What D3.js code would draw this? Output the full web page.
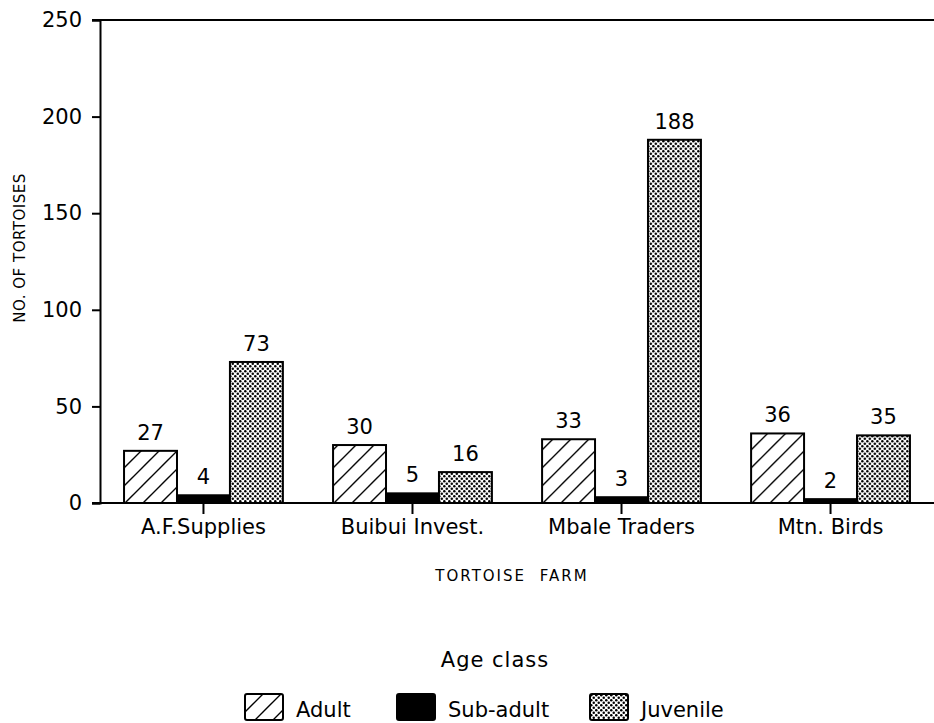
<!DOCTYPE html>
<html>
<head>
<meta charset="utf-8">
<script src="https://cdn.jsdelivr.net/npm/d3@7"></script>
<style>
  body { margin: 0; background: #fff; }
  svg text { font-family: "DejaVu Sans", sans-serif; fill: #000; }
</style>
</head>
<body>
<svg width="934" height="723"></svg>
<script>
// data
var farms = ["A.F.Supplies", "Buibui Invest.", "Mbale Traders", "Mtn. Birds"];
var ageClasses = ["Adult", "Sub-adult", "Juvenile"];
var adult = [27, 30, 33, 36];
var subAdult = [4, 5, 3, 2];
var juvenile = [73, 16, 188, 35];
var yTicks = [0, 50, 100, 150, 200, 250];

var svg = d3.select("svg"),
    margin = {top: 20, left: 100, right: 0, bottom: 220},
    width = +svg.attr("width") - margin.left - margin.right,
    height = +svg.attr("height") - margin.top - margin.bottom;

var series = [adult, subAdult, juvenile];
var rows = farms.map(function (f, i) {
    return {farm: f, values: ageClasses.map(function (a, k) {
        return {cls: a, value: series[k][i]};
    })};
});

var x0 = d3.scaleBand().domain(farms).range([margin.left, margin.left + width])
    .paddingInner(0.24).paddingOuter(0.115);
var x1 = d3.scaleBand().domain(ageClasses).range([0, x0.bandwidth()]);
var y = d3.scaleLinear().domain([0, 250]).range([margin.top + height, margin.top]);

// patterns for fills
var defs = svg.append("defs");
var hatch = defs.append("pattern").attr("id", "hatch")
    .attr("patternUnits", "userSpaceOnUse").attr("width", 18).attr("height", 18);
hatch.append("path").attr("d", "M-2,20 L20,-2 M-2,2 L2,-2 M16,20 L20,16")
    .attr("stroke", "#000").attr("stroke-width", 1.4);

var dots = defs.append("pattern").attr("id", "dots")
    .attr("patternUnits", "userSpaceOnUse").attr("width", 5).attr("height", 5);
dots.append("rect").attr("width", 5).attr("height", 5).attr("fill", "#fff");
dots.append("circle").attr("cx", 1.25).attr("cy", 1.25).attr("r", 1.25).attr("fill", "#000");
dots.append("circle").attr("cx", 3.75).attr("cy", 3.75).attr("r", 1.25).attr("fill", "#000");

var fill = d3.scaleOrdinal().domain(ageClasses)
    .range(["url(#hatch)", "#000", "url(#dots)"]);

// y axis
var yAxis = svg.append("g")
    .attr("transform", "translate(" + margin.left + ",0)")
    .call(d3.axisLeft(y).tickValues(yTicks).tickSize(8).tickPadding(10));
yAxis.select(".domain").attr("stroke-width", 2);
yAxis.selectAll(".tick line").attr("stroke-width", 2);
yAxis.selectAll("text").attr("font-size", 21).style("font-family", "DejaVu Sans");

// top frame line
svg.append("line")
    .attr("x1", margin.left - 8).attr("x2", 934)
    .attr("y1", y(250)).attr("y2", y(250))
    .attr("stroke", "#000").attr("stroke-width", 2);

// bars
var groups = svg.selectAll(".farm")
    .data(rows)
    .enter().append("g")
    .attr("class", "farm")
    .attr("transform", function (d) { return "translate(" + x0(d.farm) + ",0)"; });

groups.selectAll("rect")
    .data(function (d) { return d.values; })
    .enter().append("rect")
    .attr("x", function (d) { return x1(d.cls); })
    .attr("y", function (d) { return y(d.value); })
    .attr("width", x1.bandwidth())
    .attr("height", function (d) { return y(0) - y(d.value); })
    .attr("fill", function (d) { return fill(d.cls); })
    .attr("stroke", "#000")
    .attr("stroke-width", 2);

groups.selectAll(".val")
    .data(function (d) { return d.values; })
    .enter().append("text")
    .attr("class", "val")
    .attr("x", function (d) { return x1(d.cls) + x1.bandwidth() / 2; })
    .attr("y", function (d) { return y(d.value) - 11; })
    .attr("text-anchor", "middle")
    .attr("font-size", 21)
    .text(function (d) { return d.value; });

// x axis
var xAxis = svg.append("g")
    .attr("transform", "translate(0," + y(0) + ")")
    .call(d3.axisBottom(x0).tickSize(11).tickPadding(5).tickSizeOuter(0));
xAxis.select(".domain").attr("d", "M" + (margin.left - 8) + ",0H934").attr("stroke-width", 2);
xAxis.selectAll(".tick line").attr("stroke-width", 2);
xAxis.selectAll("text").attr("font-size", 21).style("font-family", "DejaVu Sans");

// axis titles
svg.append("text")
    .attr("transform", "translate(25,248) rotate(-90)")
    .attr("text-anchor", "middle")
    .attr("font-size", 15)
    .attr("letter-spacing", 0.5)
    .text("NO. OF TORTOISES");

svg.append("text")
    .attr("x", 512).attr("y", 581)
    .attr("text-anchor", "middle")
    .attr("font-size", 15)
    .attr("letter-spacing", 2)
    .attr("word-spacing", 7)
    .text("TORTOISE FARM");

// legend
svg.append("text")
    .attr("x", 495).attr("y", 667)
    .attr("text-anchor", "middle")
    .attr("font-size", 21)
    .attr("letter-spacing", 1)
    .text("Age class");

var legendX = [245, 397, 590];
var legend = svg.selectAll(".legend")
    .data(ageClasses)
    .enter().append("g")
    .attr("class", "legend")
    .attr("transform", function (d, i) { return "translate(" + legendX[i] + ",694)"; });

legend.append("rect")
    .attr("width", 38).attr("height", 26).attr("rx", 2)
    .attr("fill", function (d) { return fill(d); })
    .attr("stroke", "#000").attr("stroke-width", 2);

legend.append("text")
    .attr("x", 51).attr("y", 23)
    .attr("font-size", 21)
    .text(function (d) { return d; });
</script>
</body>
</html>
